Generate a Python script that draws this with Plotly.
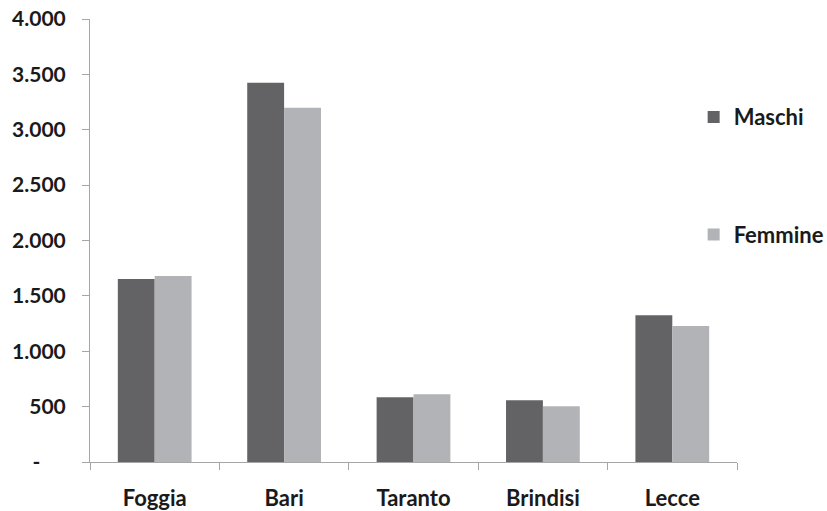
import plotly.graph_objects as go

# Provinces and counts per sex
province = ["Foggia", "Bari", "Taranto", "Brindisi", "Lecce"]
maschi = [1652, 3424, 585, 558, 1326]
femmine = [1679, 3198, 612, 504, 1227]

y_tick_vals = [0, 500, 1000, 1500, 2000, 2500, 3000, 3500, 4000]
y_tick_text = ["-\u00a0\u00a0\u00a0\u00a0\u00a0", "500", "1.000", "1.500", "2.000",
               "2.500", "3.000", "3.500", "4.000"]

FONT = "Lato"
TXT = "#1a1a1a"
AXIS = "#a6a6a6"

fig = go.Figure()
fig.add_trace(go.Bar(x=province, y=maschi, name="Maschi",
                     marker=dict(color="#636365", line=dict(width=0)),
                     legendgroup="m"))
fig.add_trace(go.Bar(x=province, y=femmine, name="Femmine",
                     marker=dict(color="#b2b3b6", line=dict(width=0)),
                     legendgroup="f"))

fig.update_layout(
    width=827, height=511,
    margin=dict(l=90, r=90, t=19, b=49, pad=0, autoexpand=False),
    paper_bgcolor="white", plot_bgcolor="white",
    barmode="group", bargap=0.43, bargroupgap=0,
    font=dict(family=FONT, color=TXT),
    showlegend=True,
    legend=dict(
        x=0.933, xanchor="left", y=0.826, yanchor="top",
        traceorder="grouped", tracegroupgap=86,
        font=dict(family=FONT, size=22, color=TXT, weight="bold"),
        bgcolor="rgba(0,0,0,0)", itemwidth=30,
    ),
)

fig.update_xaxes(
    showline=True, linecolor=AXIS, linewidth=1,
    ticks="outside", tickson="boundaries", ticklen=7, tickcolor=AXIS,
    tickfont=dict(family=FONT, size=22, color=TXT, weight="bold"),
    ticklabelstandoff=17,
    showgrid=False, zeroline=False,
)
fig.update_yaxes(
    range=[0, 4000],
    tickmode="array", tickvals=y_tick_vals, ticktext=y_tick_text,
    showline=True, linecolor=AXIS, linewidth=1,
    ticks="outside", ticklen=7, tickcolor=AXIS,
    tickfont=dict(family=FONT, size=21, color=TXT, weight="bold"),
    ticklabelstandoff=12,
    showgrid=False, zeroline=False,
)

fig.write_html("out.html")
